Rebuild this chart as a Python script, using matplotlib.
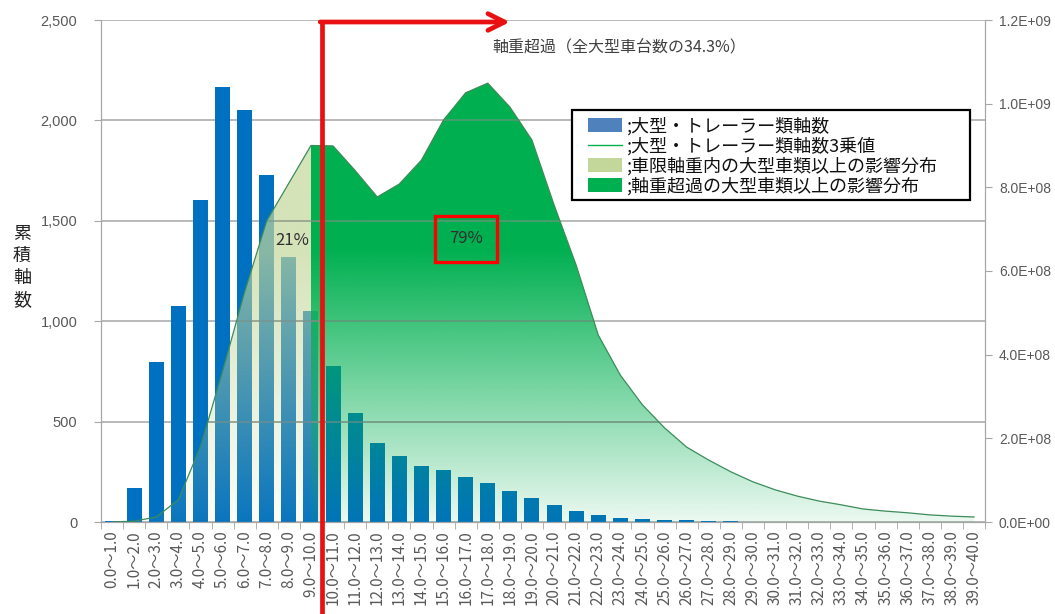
import numpy as np
import matplotlib
matplotlib.use("Agg")
import matplotlib.pyplot as plt
import matplotlib.colors as mcolors
import matplotlib.transforms as mtransforms
from matplotlib.patches import Patch, Polygon, Rectangle
from matplotlib.lines import Line2D
from matplotlib.ticker import FixedLocator, MultipleLocator, FuncFormatter

plt.rcParams['font.family'] = ['Noto Sans CJK JP', 'DejaVu Sans']

# ---------------- data ----------------
categories = [f"{i}.0～{i + 1}.0" for i in range(40)]

axle_counts = [5, 167, 797, 1076, 1604, 2166, 2052, 1728, 1320, 1051,
               777, 543, 392, 329, 279, 257, 223, 194, 156, 118,
               85, 55, 35, 21, 16, 10, 8, 3, 3, 2,
               2, 2, 2, 1, 1, 1, 1, 1, 1, 1]

# cubed-axle-load influence (units of 1e8)
cube_values_e8 = [0.0, 0.02, 0.12, 0.53, 1.8, 3.6, 5.5, 7.2, 8.1, 9.0,
                  8.99, 8.4, 7.77, 8.08, 8.65, 9.61, 10.26, 10.49, 9.92, 9.13,
                  7.58, 6.14, 4.47, 3.51, 2.80, 2.25, 1.79, 1.48, 1.20, 0.96,
                  0.77, 0.62, 0.50, 0.41, 0.31, 0.26, 0.22, 0.17, 0.14, 0.12]

axle_limit_t = 10.0
share_within = "21%"
share_over = "79%"
over_label = "軸重超過（全大型車台数の34.3%）"

legend_labels = [";大型・トレーラー類軸数",
                 ";大型・トレーラー類軸数3乗値",
                 ";車限軸重内の大型車類以上の影響分布",
                 ";軸重超過の大型車類以上の影響分布"]

left_ticks = [0, 500, 1000, 1500, 2000, 2500]
right_max = 1.2e9

# ---------------- styling ----------------
BAR = '#0070C0'
LIGHT = '#C4D79B'
DARK = '#00B050'
RED = '#E81010'
GRID = '#A6A6A6'
TXT = '#595959'

x = np.arange(len(categories))
cube = np.array(cube_values_e8) * 1e8
split = axle_limit_t - 0.5

fig = plt.figure(figsize=(10.55, 6.14), dpi=100)
ax = fig.add_axes([101 / 1055, 1 - 522 / 614, (985 - 101) / 1055, (522 - 20) / 614])
ax2 = ax.twinx()

# bars
ax.bar(x, axle_counts, width=0.68, color=BAR, zorder=2)
ax.set_xlim(-0.5, len(categories) - 0.5)
ax.set_ylim(0, left_ticks[-1])
ax.set_axisbelow(True)
ax.yaxis.grid(True, color=GRID, lw=1.1)
ax.yaxis.set_major_locator(FixedLocator(left_ticks))
ax.yaxis.set_major_formatter(FuncFormatter(lambda v, p: f"{v:,.0f}"))
ax.tick_params(axis='y', length=5, color=GRID, pad=12, labelsize=10.5,
               labelcolor=TXT, labelfontfamily='Liberation Sans')

ax.xaxis.set_major_locator(FixedLocator(x))
ax.set_xticklabels(categories, rotation=90, va='top', ha='center')
ax.xaxis.set_minor_locator(FixedLocator(np.arange(len(categories) + 1) - 0.5))
ax.tick_params(axis='x', which='major', length=0, pad=6, labelsize=11, labelcolor=TXT)
ax.tick_params(axis='x', which='minor', length=5, color=GRID)

for s in ['left', 'right', 'bottom', 'top']:
    ax.spines[s].set_color(GRID)
    ax2.spines[s].set_color(GRID)
ax.spines['top'].set_visible(False)
ax2.spines['top'].set_visible(False)

ax2.set_ylim(0, right_max)
ax2.yaxis.set_major_locator(MultipleLocator(2e8))
ax2.yaxis.set_major_formatter(FuncFormatter(lambda v, p: f"{v:.1E}"))
ax2.tick_params(axis='y', length=5, color=GRID, pad=5, labelsize=10,
                labelcolor=TXT, labelfontfamily='Liberation Sans')


def gradient_area(axis, xs, ys, color, amax):
    verts = [(xs[0], 0)] + list(zip(xs, ys)) + [(xs[-1], 0)]
    poly = Polygon(verts, closed=True, fc='none', ec='none')
    axis.add_patch(poly)
    n = 300
    v = np.linspace(0, right_max, n)
    alpha = amax * (0.08 + 0.92 * np.clip(v / 6.5e8, 0, 1))
    img = np.zeros((n, 2, 4))
    img[..., :3] = mcolors.to_rgb(color)
    img[..., 3] = alpha[:, None]
    im = axis.imshow(img, extent=(xs[0], xs[-1], 0, right_max), origin='lower',
                     aspect='auto', interpolation='bilinear', zorder=1)
    im.set_clip_path(poly)
    return poly


split_val = np.interp(split, x, cube)
xl = np.append(x[x < split], split)
yl = np.append(cube[x < split], split_val)
xd = np.insert(x[x > split], 0, split)
yd = np.insert(cube[x > split], 0, split_val)

poly_l = gradient_area(ax2, xl, yl, LIGHT, 0.7)
poly_d = gradient_area(ax2, xd, yd, DARK, 1.0)

# gridlines visible through the areas
for g in left_ticks[1:-1]:
    for pp in (poly_l, poly_d):
        hl = ax2.axhline(g * right_max / left_ticks[-1], color='#7F8F85', lw=1.1,
                         alpha=0.7, zorder=3)
        hl.set_clip_path(pp)

ax2.plot(x, cube, color='#3C8C5A', lw=0.9, zorder=4)
ax2.set_xlim(-0.5, len(categories) - 0.5)
ax2.set_ylim(0, right_max)

# red boundary line and arrow
trans = mtransforms.blended_transform_factory(ax2.transData, ax2.transAxes)
ax2.plot([split, split], [-0.19, 1.0], transform=trans, color=RED, lw=3.4,
         clip_on=False, zorder=10, solid_capstyle='butt')
ax2.annotate('', xy=(18.0, 0.996), xytext=(split - 0.08, 0.996),
             xycoords=trans, textcoords=trans,
             arrowprops=dict(arrowstyle='->,head_length=1.2,head_width=0.6',
                             color=RED, lw=3.4, shrinkA=0, shrinkB=0),
             annotation_clip=False, zorder=10)

# texts
ax2.text(17.19, 2360, over_label, transform=ax.transData, fontsize=11.5,
         color='#404040', ha='left', va='center', zorder=11)
ax2.text(8.14, 1400, share_within, transform=ax.transData, fontsize=12,
         color='#303030', ha='center', va='center', zorder=11)
ax2.text(16.0, 1410, share_over, transform=ax.transData, fontsize=12,
         color='#303030', ha='center', va='center', zorder=11,
         bbox=dict(boxstyle='square,pad=0.85', fc='none', ec='#FF0000', lw=2.4))

fig.text(22 / 1055, 1 - 267 / 614, "累\n積\n軸\n数", ha='center', va='center',
         fontsize=13, linespacing=1.3, color='#222222')

# legend box + legend
fig.add_artist(Rectangle((572 / 1055, 1 - 200 / 614), 398 / 1055, 90 / 614,
                         transform=fig.transFigure, fc='white', ec='black',
                         lw=1.6, zorder=4))
handles = [Patch(facecolor='#4F81BD', edgecolor='none'),
           Line2D([], [], color=DARK, lw=1.0),
           Patch(facecolor=LIGHT, edgecolor='none'),
           Patch(facecolor=DARK, edgecolor='none')]
leg = fig.legend(handles, legend_labels, loc='upper left',
                 bbox_to_anchor=(588 / 1055, 1 - 117 / 614),
                 bbox_transform=fig.transFigure, borderaxespad=0,
                 frameon=False, borderpad=0, labelspacing=0.09,
                 handlelength=1.9, handleheight=0.8, handletextpad=0.25,
                 prop={'family': 'Noto Sans CJK JP', 'size': 13})
leg.set_zorder(5)
for t in leg.get_texts():
    t.set_color('#111111')

fig.savefig('out.png', dpi=100)
